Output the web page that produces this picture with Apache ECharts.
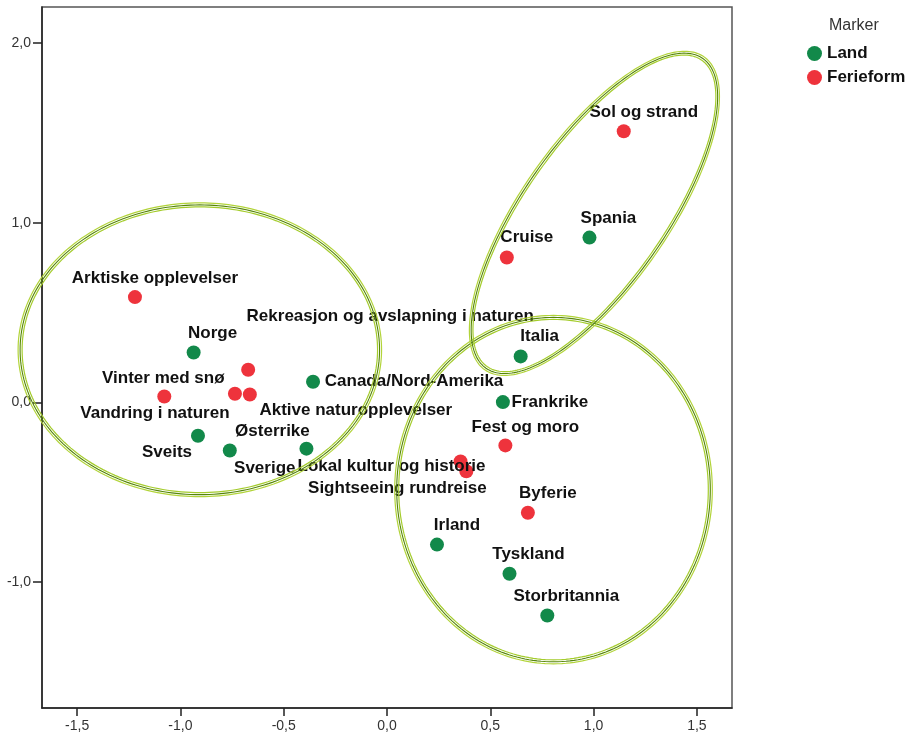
<!DOCTYPE html>
<html>
<head>
<meta charset="utf-8">
<script src="https://cdn.jsdelivr.net/npm/echarts@6/dist/echarts.min.js"></script>
<style>
  html, body { margin: 0; padding: 0; background: #fff; }
  #chart { width: 907px; height: 737px; }
</style>
</head>
<body>
<div id="chart"></div>
<script>
// Countries (Land)
const landNames = ['Norge', 'Canada/Nord-Amerika', 'Sveits', 'Sverige', 'Østerrike',
  'Italia', 'Spania', 'Frankrike', 'Irland', 'Tyskland', 'Storbritannia'];
const landX = [-0.936, -0.358, -0.915, -0.761, -0.390, 0.647, 0.980, 0.561, 0.242, 0.593, 0.776];
const landY = [0.278, 0.115, -0.185, -0.267, -0.257, 0.256, 0.917, 0.002, -0.791, -0.953, -1.185];

// Holiday types (Ferieform)
const ferieNames = ['Arktiske opplevelser', 'Vinter med snø', 'Vandring i naturen',
  'Rekreasjon og avslapning i naturen', 'Aktive naturopplevelser', 'Fest og moro',
  'Lokal kultur og historie', 'Sightseeing rundreise', 'Byferie', 'Cruise', 'Sol og strand'];
const ferieX = [-1.220, -1.078, -0.736, -0.672, -0.664, 0.573, 0.356, 0.384, 0.682, 0.580, 1.146];
const ferieY = [0.586, 0.033, 0.048, 0.182, 0.044, -0.239, -0.328, -0.383, -0.614, 0.806, 1.509];

// Axis ticks
const xTickValues = [-1.5, -1.0, -0.5, 0.0, 0.5, 1.0, 1.5];
const yTickValues = [-1.0, 0.0, 1.0, 2.0];

// Cluster rings: centre, semi-axes (data units) and tilt (degrees)
const ringCx = [-0.906, 0.806, 1.004];
const ringCy = [0.293, -0.485, 1.052];
const ringRx = [0.870, 0.759, 0.915];
const ringRy = [0.806, 0.958, 0.398];
const ringTilt = [0, 0, 55];

// Label placement (pixel offset of label centre from the marker)
const labelOffset = {
  'Norge': [19, -19], 'Canada/Nord-Amerika': [101, 0], 'Sveits': [-31, 17],
  'Sverige': [35, 18], 'Østerrike': [-34, -17], 'Italia': [19, -20],
  'Spania': [19, -19], 'Frankrike': [47, 0], 'Irland': [20, -19],
  'Tyskland': [19, -19], 'Storbritannia': [19, -19],
  'Arktiske opplevelser': [20, -19], 'Vinter med snø': [-1, -18],
  'Vandring i naturen': [-80, 20], 'Rekreasjon og avslapning i naturen': [142, -53],
  'Aktive naturopplevelser': [106, 16], 'Fest og moro': [20, -18],
  'Lokal kultur og historie': [-69, 5], 'Sightseeing rundreise': [-69, 17],
  'Byferie': [20, -19], 'Cruise': [20, -20], 'Sol og strand': [20, -19]
};

const GREEN = '#12894a';
const RED = '#ee333c';
const FONT = '"Liberation Sans", Arial, sans-serif';

function pointData(names, xs, ys) {
  return names.map((n, i) => ({
    name: n,
    value: [xs[i], ys[i]],
    label: { offset: labelOffset[n] || [19, -19] }
  }));
}

const fmt = v => v.toFixed(1).replace('.', ',');

// three parallel strokes give the ring its banded look
const ringStrokes = [
  { d: 2, color: '#b2d43a', w: 1.2 },
  { d: 0, color: '#55850a', w: 1.1 },
  { d: -2, color: '#a4cc2c', w: 1.2 }
];

function renderRing(params, api) {
  const c = api.coord([api.value(0), api.value(1)]);
  const s = api.size([api.value(2), api.value(3)]);
  const phi = api.value(4) * Math.PI / 180;
  const cosP = Math.cos(phi), sinP = Math.sin(phi);
  const children = ringStrokes.map(st => {
    const A = s[0] + st.d, B = s[1] + st.d;
    const pts = [];
    for (let k = 0; k < 240; k++) {
      const t = k / 240 * Math.PI * 2;
      const lx = A * Math.cos(t), ly = B * Math.sin(t);
      pts.push([c[0] + lx * cosP + ly * sinP, c[1] - lx * sinP + ly * cosP]);
    }
    return {
      type: 'polygon',
      shape: { points: pts },
      style: { fill: 'none', stroke: st.color, lineWidth: st.w }
    };
  });
  return { type: 'group', children };
}

const chart = echarts.init(document.getElementById('chart'), null, { renderer: 'canvas' });

chart.setOption({
  animation: false,
  backgroundColor: '#fff',
  title: {
    text: 'Marker',
    left: 824,
    top: 13,
    textStyle: { fontFamily: FONT, fontSize: 16, fontWeight: 'normal', color: '#333' }
  },
  legend: {
    orient: 'vertical',
    left: 802,
    top: 40,
    itemWidth: 15,
    itemHeight: 15,
    itemGap: 7,
    icon: 'circle',
    data: ['Land', 'Ferieform'],
    textStyle: { fontFamily: FONT, fontSize: 17, fontWeight: 'bold', color: '#111' }
  },
  grid: {
    left: 42, top: 7, width: 690, height: 701,
    show: true, borderColor: '#555', borderWidth: 1.5, backgroundColor: 'transparent'
  },
  xAxis: {
    type: 'value',
    min: -1.67, max: 1.67,
    splitLine: { show: false },
    axisLine: { onZero: false, lineStyle: { color: '#222', width: 1.5 } },
    axisTick: { show: true, length: 8, customValues: xTickValues, lineStyle: { color: '#222', width: 1.5 } },
    axisLabel: { customValues: xTickValues, formatter: fmt, margin: 11,
      fontFamily: FONT, fontSize: 14, color: '#333' }
  },
  yAxis: {
    type: 'value',
    min: -1.7, max: 2.2,
    splitLine: { show: false },
    axisLine: { onZero: false, lineStyle: { color: '#222', width: 1.5 } },
    axisTick: { show: true, length: 9, customValues: yTickValues, lineStyle: { color: '#222', width: 1.5 } },
    axisLabel: { customValues: yTickValues, formatter: fmt, margin: 11,
      fontFamily: FONT, fontSize: 14, color: '#333' }
  },
  series: [
    {
      name: 'Land',
      type: 'scatter',
      symbol: 'circle',
      symbolSize: 14,
      itemStyle: { color: GREEN, opacity: 1 },
      emphasis: { disabled: true },
      label: {
        show: true, position: 'inside', formatter: '{b}',
        align: 'center', verticalAlign: 'middle',
        fontFamily: FONT, fontSize: 17, fontWeight: 'bold', color: '#111'
      },
      data: pointData(landNames, landX, landY),
      z: 2
    },
    {
      name: 'Ferieform',
      type: 'scatter',
      symbol: 'circle',
      symbolSize: 14,
      itemStyle: { color: RED, opacity: 1 },
      emphasis: { disabled: true },
      label: {
        show: true, position: 'inside', formatter: '{b}',
        align: 'center', verticalAlign: 'middle',
        fontFamily: FONT, fontSize: 17, fontWeight: 'bold', color: '#111'
      },
      data: pointData(ferieNames, ferieX, ferieY),
      z: 2
    },
    {
      name: 'rings',
      type: 'custom',
      coordinateSystem: 'cartesian2d',
      clip: false,
      silent: true,
      z: 3,
      renderItem: renderRing,
      data: ringCx.map((cx, i) => [cx, ringCy[i], ringRx[i], ringRy[i], ringTilt[i]])
    }
  ]
});
</script>
</body>
</html>
